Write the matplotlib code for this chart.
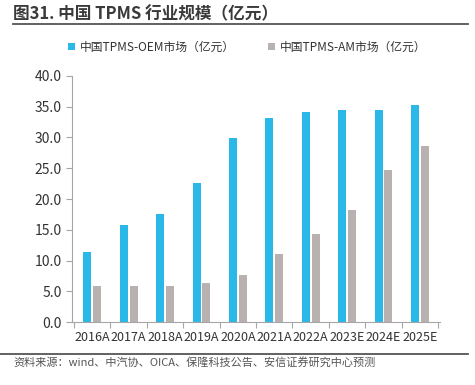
import numpy as np
import matplotlib.pyplot as plt

plt.rcParams['font.family'] = ['Noto Sans CJK SC', 'DejaVu Sans']

# Data
years = ['2016A', '2017A', '2018A', '2019A', '2020A', '2021A', '2022A', '2023E', '2024E', '2025E']
oem = [11.4, 15.8, 17.5, 22.6, 29.9, 33.2, 34.2, 34.5, 34.5, 35.2]
am = [5.9, 5.9, 5.9, 6.4, 7.6, 11.1, 14.4, 18.3, 24.7, 28.6]
oem_label = '中国TPMS-OEM市场（亿元）'
am_label = '中国TPMS-AM市场（亿元）'

blue = '#29B8E8'
grey = '#B9B1AF'
axis_grey = '#A6A6A6'

fig = plt.figure(figsize=(4.75, 3.85), dpi=100)
ax = fig.add_axes([0.152, 0.163, 0.774, 0.64])

x = np.arange(len(years))
w = 0.22
ax.bar(x - 0.135, oem, w, color=blue, label=oem_label)
ax.bar(x + 0.135, am, w, color=grey, label=am_label)

ax.set_xlim(-0.55, len(years) - 0.45)
ax.set_ylim(0, 40)
ax.set_yticks(np.arange(0, 41, 5))
ax.set_yticklabels(['%.1f' % v for v in np.arange(0, 41, 5)], fontsize=10, color='#333333')
ax.set_xticks(x)
ax.set_xticklabels(years, fontsize=9, color='#333333')
ax.tick_params(axis='x', length=0, pad=6)
ax.tick_params(axis='y', length=4, color=axis_grey, width=0.8)
ax.set_xticks(np.arange(-0.5, len(years)), minor=True)
ax.tick_params(axis='x', which='minor', length=4, color=axis_grey, width=0.8)

for s in ['top', 'right']:
    ax.spines[s].set_visible(False)
for s in ['left', 'bottom']:
    ax.spines[s].set_color(axis_grey)
    ax.spines[s].set_linewidth(0.8)

fig.legend(loc='center', bbox_to_anchor=(0.52, 0.878), ncol=2, frameon=False,
           fontsize=8.5, handlelength=0.6, handleheight=0.6, columnspacing=2.8,
           handletextpad=0.4, labelcolor='#333333')

# Title and source
fig.text(0.028, 0.962, '图31. 中国 TPMS 行业规模（亿元）', fontsize=12, fontweight='bold',
         color='#3a3a3a', va='center')
fig.add_artist(plt.Line2D([0.028, 0.985], [0.937, 0.937], color='#555555', lw=1.3))
fig.add_artist(plt.Line2D([0.0, 0.985], [0.08, 0.08], color='#555555', lw=1.3))
fig.text(0.028, 0.058, '资料来源：wind、中汽协、OICA、保隆科技公告、安信证券研究中心预测',
         fontsize=8, style='italic', color='#555555', va='center')

fig.savefig('out.png', dpi=100)
plt.close()
